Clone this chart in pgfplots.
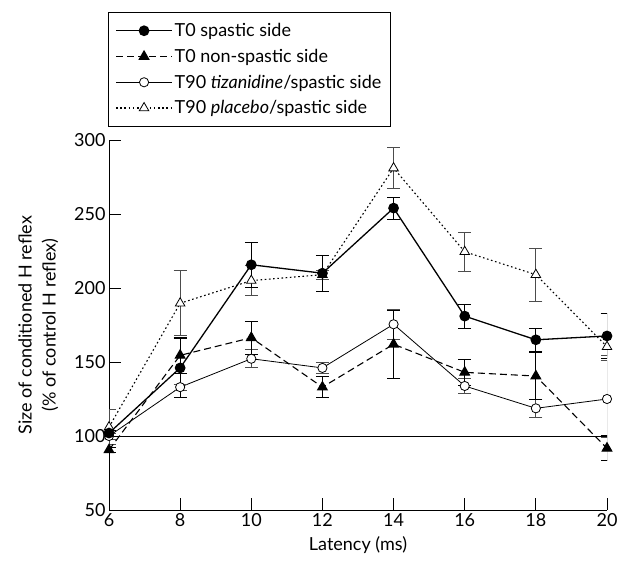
\documentclass[border=0pt]{standalone}
\usepackage{fontspec}
\setmainfont{Lato}
\usepackage{pgfplots}
\pgfplotsset{compat=1.18}
\begin{document}
\begin{tikzpicture}
\path[use as bounding box] (0,0) rectangle (618pt,562pt);
\begin{axis}[
  at={(109pt,52pt)}, anchor=south west,
  width=498pt, height=370pt, scale only axis,
  xmin=6, xmax=20, ymin=50, ymax=300,
  axis x line=bottom, axis y line=left,
  axis line style={line width=0.9pt, -},
  xtick={6,8,...,20}, ytick={50,100,...,300},
  tick align=inside, major tick length=12pt,
  tick style={line width=0.9pt, black},
  font=\fontsize{18}{21}\selectfont,
  /pgf/number format/assume math mode=true,
  xlabel={Latency (ms)},
  ylabel={Size of conditioned H reflex\\(\% of control H reflex)},
  ylabel style={align=center, yshift=9pt, font=\fontsize{18}{24}\selectfont},
  xlabel style={yshift=-3pt},
  legend style={at={(-0.002,1.346)}, anchor=north west, draw=black, line width=0.8pt,
    font=\fontsize{18}{21}\selectfont, row sep=7pt, inner xsep=7pt, inner ysep=9pt,
    cells={anchor=west}},
  legend image code/.code={\draw[mark repeat=2,mark phase=2,#1] plot coordinates {(0pt,0pt) (28pt,0pt) (56pt,0pt)};},
  reverse legend,
  error bars/y dir=both, error bars/y explicit,
  error bars/error mark options={rotate=90, mark size=6.5pt, line width=0.9pt},
  error bars/error bar style={solid, line width=0.9pt},
]
\addplot[black, line width=0.8pt, forget plot] coordinates {(6,100) (20,100)};
% T90 placebo / spastic side
\addplot[black, line width=1.1pt, dash pattern=on 1.6pt off 2.6pt,
  mark=triangle*, mark size=5.5pt, mark options={solid, fill=white, line width=0.8pt},
  error bars/error bar style={solid, line width=0.9pt, black!70}]
  coordinates {(6,106) +- (0,12) (8,189.7) +- (0,22) (10,205) +- (0,10) (12,209) +- (0,3)
    (14,281) +- (0,14) (16,224.5) +- (0,13) (18,209) +- (0,18) (20,160.3) +- (0,6)};
\addlegendentry{T90 \textit{placebo}/spastic side}
% T90 tizanidine / spastic side
\addplot[black, line width=0.8pt,
  mark=*, mark size=4.6pt, mark options={solid, fill=white, line width=0.8pt},
  error bars/error bar style={solid, line width=0.9pt, black!70}]
  coordinates {(6,100) +- (0,2) (8,133) +- (0,2) (10,152.2) +- (0,6) (12,146) +- (0,4)
    (14,175.5) +- (0,10) (16,133.8) +- (0,5) (18,118.7) +- (0,6) (20,125) +- (0,26)};
\addlegendentry{T90 \textit{tizanidine}/spastic side}
% T0 non-spastic side
\addplot[black, line width=1.1pt, dash pattern=on 7pt off 4pt,
  mark=triangle*, mark size=5.5pt, mark options={solid, fill=black},
  error bars/error bar style={solid, line width=0.9pt, black}]
  coordinates {(6,90.6) +- (0,2) (8,154.5) +- (0,12) (10,166.4) +- (0,11) (12,133) +- (0,7)
    (14,162) +- (0,23) (16,143) +- (0,9) (18,140.5) +- (0,16) (20,91.7) +- (0,8.5)};
\addlegendentry{T0 non-spastic side}
% T0 spastic side
\addplot[black, line width=1.3pt,
  mark=*, mark size=4.7pt, mark options={solid, fill=black},
  error bars/error bar style={solid, line width=0.9pt, black}]
  coordinates {(6,102) +- (0,2) (8,146) +- (0,20) (10,215.7) +- (0,15) (12,210) +- (0,12)
    (14,254) +- (0,7.5) (16,181) +- (0,8) (18,165) +- (0,8) (20,167.6) +- (0,15)};
\addlegendentry{T0 spastic side}
\end{axis}
\end{tikzpicture}
\end{document}
